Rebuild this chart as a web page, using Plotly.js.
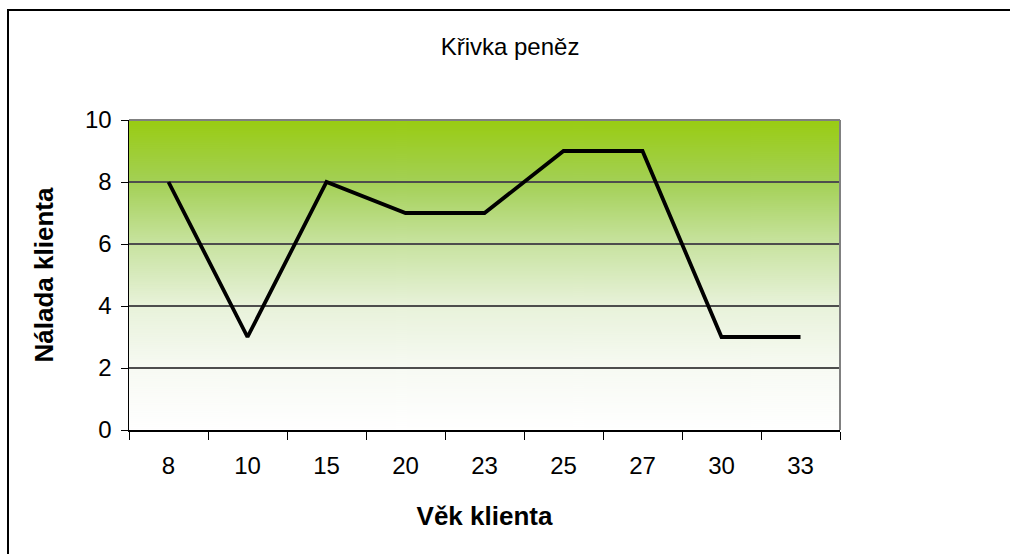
<!DOCTYPE html>
<html>
<head>
<meta charset="utf-8">
<script src="https://cdn.plot.ly/plotly-3.0.1.min.js"></script>
<style>
html,body{margin:0;padding:0;background:#fff;overflow:hidden;}
#wrap{position:relative;width:1010px;height:554px;overflow:hidden;}
#chart{width:1010px;height:554px;}
#frame{position:absolute;left:7px;top:9px;width:1200px;height:800px;border-left:2px solid #000;border-top:2px solid #000;pointer-events:none;}
</style>
</head>
<body>
<div id="wrap"><div id="chart"></div><div id="frame"></div></div>
<script>
const categories = ['8','10','15','20','23','25','27','30','33'];
const mood = [8,3,8,7,7,9,9,3,3];
const yTicks = [0,2,4,6,8,10];

// vertical gradient background for the plot area
const cv = document.createElement('canvas');
cv.width = 4; cv.height = 310;
const ctx = cv.getContext('2d');
const g = ctx.createLinearGradient(0,0,0,310);
g.addColorStop(0,'rgb(153,204,18)');
g.addColorStop(0.2,'rgb(163,208,85)');
g.addColorStop(0.4,'rgb(200,227,160)');
g.addColorStop(0.6,'rgb(232,242,218)');
g.addColorStop(0.8,'rgb(247,250,243)');
g.addColorStop(1,'rgb(255,255,255)');
ctx.fillStyle = g; ctx.fillRect(0,0,4,310);
const bg = cv.toDataURL('image/png');

const font = 'Liberation Sans, Arial, sans-serif';
const trace = {
  x: categories, y: mood, type:'scatter', mode:'lines',
  line:{color:'#000', width:3.8}, hoverinfo:'skip'
};
const layout = {
  width:1010, height:554,
  margin:{l:129, r:170, t:120, b:124},
  paper_bgcolor:'rgba(0,0,0,0)', plot_bgcolor:'rgba(0,0,0,0)',
  showlegend:false,
  font:{family:font, color:'#000', size:24},
  title:{text:'Křivka peněz', x:0.505, xref:'container', xanchor:'center', y:0.915, yanchor:'middle', font:{family:font, size:24, color:'#000'}},
  xaxis:{
    type:'category', range:[-0.5, 8.5], tickson:'boundaries', ticks:'outside', ticklen:8, tickcolor:'#000', tickwidth:1,
    showline:true, linecolor:'#000', linewidth:1.5, mirror:false, showgrid:false, zeroline:false,
    tickfont:{size:24}, ticklabelstandoff:14,
    title:{text:'<b>Věk klienta</b>', font:{size:26}, standoff:28}
  },
  yaxis:{
    range:[0,10], tickvals:yTicks, ticktext:yTicks.map(String), ticks:'outside', ticklen:7, tickcolor:'#000', tickwidth:1,
    showline:true, linecolor:'#000', linewidth:1.5, showgrid:true, gridcolor:'#4d4d4d', gridwidth:1.2, zeroline:false,
    tickfont:{size:24}, ticklabelstandoff:4,
    title:{text:'<b>Nálada klienta</b>', font:{size:26}, standoff:24}
  },
  images:[{source:bg, xref:'paper', yref:'paper', x:0, y:1, sizex:1, sizey:1, sizing:'stretch', xanchor:'left', yanchor:'top', layer:'below'}],
  shapes:[
    {type:'line', xref:'paper', yref:'paper', x0:0, x1:1, y0:1, y1:1, line:{color:'#808080', width:2}},
    {type:'line', xref:'paper', yref:'paper', x0:1, x1:1, y0:0, y1:1, line:{color:'#808080', width:2}}
  ]
};
Plotly.newPlot('chart',[trace],layout,{staticPlot:true, displayModeBar:false});
</script>
</body>
</html>
